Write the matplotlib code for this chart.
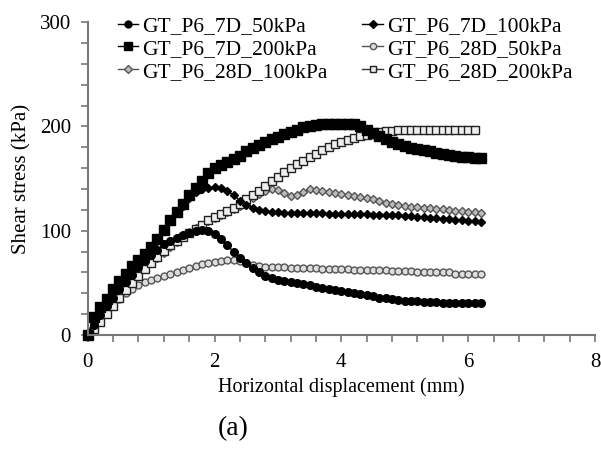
import matplotlib
matplotlib.use("Agg")
import matplotlib.pyplot as plt
from matplotlib.ticker import MultipleLocator

plt.rcParams["font.family"] = ["Liberation Serif", "DejaVu Serif"]

# horizontal displacement (mm), shared by all series
disp = [0.0, 0.1, 0.2, 0.3, 0.4, 0.5, 0.6, 0.7, 0.8, 0.9,
        1.0, 1.1, 1.2, 1.3, 1.4, 1.5, 1.6, 1.7, 1.8, 1.9,
        2.0, 2.1, 2.2, 2.3, 2.4, 2.5, 2.6, 2.7, 2.8, 2.9,
        3.0, 3.1, 3.2, 3.3, 3.4, 3.5, 3.6, 3.7, 3.8, 3.9,
        4.0, 4.1, 4.2, 4.3, 4.4, 4.5, 4.6, 4.7, 4.8, 4.9,
        5.0, 5.1, 5.2, 5.3, 5.4, 5.5, 5.6, 5.7, 5.8, 5.9,
        6.0, 6.1, 6.2]

# shear stress (kPa)
p6_7d_50 = [0, 10, 19, 28, 36, 44, 51, 58, 65, 71,
            77, 82, 87, 90, 93, 96, 98, 100, 101, 100,
            97, 92, 86, 80, 74, 69, 64, 60, 57, 55,
            53, 52, 51, 50, 49, 48, 46, 45, 44, 43,
            42, 41, 40, 39, 38, 37, 36, 36, 35, 34,
            33, 33, 33, 32, 32, 32, 31, 31, 31, 31,
            31, 31, 31]
p6_7d_100 = [0, 13, 24, 33, 42, 50, 57, 64, 71, 77,
             83, 90, 100, 109, 117, 124, 131, 137, 140, 141,
             142, 141, 138, 134, 129, 125, 122, 120, 119, 118,
             118, 117, 117, 117, 117, 117, 117, 117, 116, 116,
             116, 116, 116, 116, 116, 115, 115, 115, 115, 115,
             114, 114, 113, 113, 112, 112, 111, 111, 110, 110,
             109, 109, 108]
p6_7d_200 = [0, 17, 27, 35, 44, 52, 59, 66, 72, 78,
             84, 92, 101, 110, 118, 126, 134, 141, 148, 155,
             160, 163, 166, 169, 172, 176, 179, 182, 185, 188,
             190, 193, 195, 197, 199, 200, 201, 202, 202, 202,
             202, 202, 202, 200, 197, 194, 191, 188, 185, 183,
             181, 179, 178, 177, 176, 175, 174, 173, 172, 171,
             171, 170, 170]
p6_28d_50 = [0, 8, 15, 22, 29, 35, 40, 44, 48, 51,
             53, 55, 57, 59, 60, 62, 64, 66, 68, 69,
             70, 71, 72, 72, 71, 69, 67, 66, 65, 65,
             65, 65, 64, 64, 64, 64, 64, 63, 63, 63,
             63, 63, 62, 62, 62, 62, 62, 62, 61, 61,
             61, 61, 60, 60, 60, 60, 60, 60, 59, 59,
             59, 59, 59]
p6_28d_100 = [0, 8, 16, 24, 32, 39, 46, 52, 58, 64,
              69, 74, 79, 84, 89, 94, 99, 103, 106, 109,
              112, 115, 118, 121, 124, 127, 131, 135, 138, 140,
              139, 136, 133, 134, 137, 140, 139, 138, 137, 136,
              135, 134, 133, 132, 131, 130, 129, 127, 126, 125,
              124, 123, 123, 122, 122, 121, 121, 120, 119, 119,
              118, 118, 117]
p6_28d_200 = [0, 6, 13, 20, 28, 36, 43, 50, 57, 63,
              69, 75, 81, 86, 90, 94, 98, 102, 106, 110,
              113, 116, 119, 122, 126, 130, 134, 138, 143, 148,
              152, 156, 160, 164, 167, 171, 174, 177, 180, 183,
              185, 187, 189, 191, 192, 193, 195, 196, 196, 197,
              197, 197, 197, 197, 197, 197, 197, 197, 197, 197,
              197, 197]

fig = plt.figure(figsize=(6.01, 4.51), dpi=100)
ax = fig.add_axes([0.146, 0.257, 0.844, 0.694])

h_28_50, = ax.plot(disp, p6_28d_50, marker="o", color="#555555", lw=1,
                   mfc="#dddddd", mec="#555555", ms=5, mew=1, clip_on=False,
                   label="GT_P6_28D_50kPa")
h_28_100, = ax.plot(disp, p6_28d_100, marker="D", color="#555555", lw=1,
                    mfc="#bbbbbb", mec="#555555", ms=4.5, mew=1, clip_on=False,
                    label="GT_P6_28D_100kPa")
h_28_200, = ax.plot(disp[:len(p6_28d_200)], p6_28d_200, marker="s", color="#333333", lw=1,
                    mfc="#eeeeee", mec="#222222", ms=5.5, mew=1, clip_on=False,
                    label="GT_P6_28D_200kPa")
h_7_50, = ax.plot(disp, p6_7d_50, marker="o", color="black", lw=1,
                  ms=5.5, clip_on=False, label="GT_P6_7D_50kPa")
h_7_100, = ax.plot(disp, p6_7d_100, marker="D", color="black", lw=1,
                   ms=4.5, clip_on=False, label="GT_P6_7D_100kPa")
h_7_200, = ax.plot(disp, p6_7d_200, marker="s", color="black", lw=1,
                   ms=7, clip_on=False, label="GT_P6_7D_200kPa")

ax.set_xlim(0, 8)
ax.set_ylim(0, 300)
ax.xaxis.set_major_locator(MultipleLocator(2))
ax.xaxis.set_minor_locator(MultipleLocator(0.4))
ax.yaxis.set_major_locator(MultipleLocator(100))
ax.yaxis.set_minor_locator(MultipleLocator(20))

for side in ["top", "right"]:
    ax.spines[side].set_visible(False)
for side in ["left", "bottom"]:
    ax.spines[side].set_color("#777777")
    ax.spines[side].set_linewidth(1.5)
ax.tick_params(which="both", direction="out", length=5, width=1.2, color="#777777")
ax.tick_params(which="major", labelsize=15)
ax.tick_params(axis="x", which="major", pad=8)
ax.tick_params(axis="y", which="major", pad=7)

ax.set_xlabel("Horizontal displacement (mm)", fontsize=14.5, labelpad=4)
ax.set_ylabel("Shear stress (kPa)", fontsize=15, labelpad=6)

# legend filled column-wise: left column then right column
handles = [h_7_50, h_7_200, h_28_100, h_7_100, h_28_50, h_28_200]
ax.legend(handles=handles, labels=[h.get_label() for h in handles],
          ncol=2, loc="upper left", bbox_to_anchor=(0.196, 0.964),
          bbox_transform=fig.transFigure, borderpad=0, borderaxespad=0,
          frameon=False, fontsize=15.5, handlelength=0.95, handletextpad=0.2,
          columnspacing=1.6, labelspacing=0.12, markerscale=0.9)

fig.text(0.388, 0.05, "(a)", fontsize=20, ha="center", va="center")

fig.savefig("out.png", dpi=100)
